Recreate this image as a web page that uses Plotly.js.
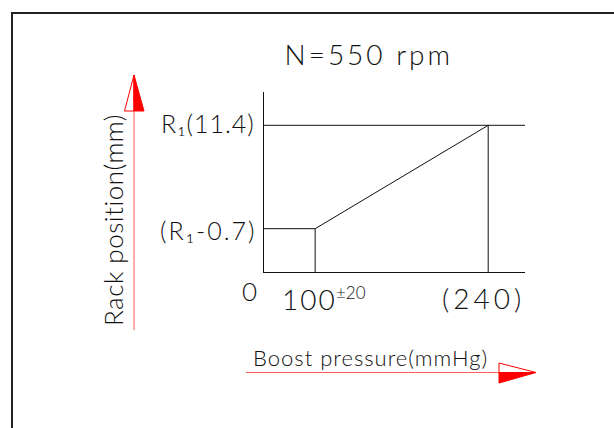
<!DOCTYPE html>
<html>
<head>
<meta charset="utf-8">
<script src="https://cdn.plot.ly/plotly-3.0.1.min.js"></script>
<style>
html,body{margin:0;padding:0;background:#fff;}
#chart{width:614px;height:428px;}
.annotation[data-index="0"] text{letter-spacing:3px;}
.annotation[data-index="1"] text, .annotation[data-index="2"] text{letter-spacing:2px;}
.annotation[data-index="3"] text{letter-spacing:4px;}
.annotation[data-index="4"] text{letter-spacing:1px;}
.annotation[data-index="5"] text{letter-spacing:2px;}
.annotation[data-index="6"] text{letter-spacing:0.5px;}
.annotation[data-index="7"] text{letter-spacing:1px;}
</style>
</head>
<body>
<div id="chart"></div>
<script>
// ---- data (schematic governor diagram, N = 550 rpm) ----
const speedTitle = "N=550 rpm";
const pressureKnots = [0, 100, 240];                 // boost pressure, mmHg
const pressureLabels = ["0", "100", "(240)"];
const pressureTolerance = "±20";                     // tolerance on the 100 mmHg break point
const R1 = 11.4;                                      // rack position, mm
const rackLow = R1 - 0.7;
const rackKnots = [0, rackLow, R1];
const rackLabels = ["", "(R₁-0.7)", "R₁(11.4)"];
const curvePressure = [0, 100, 240, 240];
const curveRack = [rackLow, rackLow, R1, 0];
const dropPressure = [100, 100];
const dropRack = [rackLow, 0];
const xTitle = "Boost pressure(mmHg)";
const yTitle = "Rack position(mm)";

// The drawing is not to scale: each knot sits at a fixed station of its axis (fraction of axis length).
const xStations = [0, 0.196, 0.859];
const yStations = [0, 0.2406, 0.815];
function interp(v, knots, st) {
  for (let i = 0; i < knots.length - 1; i++) {
    if (v <= knots[i + 1]) {
      return st[i] + (v - knots[i]) / (knots[i + 1] - knots[i]) * (st[i + 1] - st[i]);
    }
  }
  return st[st.length - 1];
}
const sx = v => interp(v, pressureKnots, xStations);
const sy = v => interp(v, rackKnots, yStations);

const W = 614, H = 428;
const px = x => x / W, py = y => 1 - y / H;

const ink = "#111";
const cadFont = size => ({family: "Lato", size: size, color: ink, weight: 300});

const traces = [
  {x: curvePressure.map(sx), y: curveRack.map(sy), mode: "lines", line: {color: ink, width: 1}, hoverinfo: "skip"},
  {x: dropPressure.map(sx), y: dropRack.map(sy), mode: "lines", line: {color: ink, width: 1}, hoverinfo: "skip"},
  {x: [0, 1], y: [sy(R1), sy(R1)], mode: "lines", line: {color: ink, width: 1}, hoverinfo: "skip"}
];

const annotations = [
  {xref: "paper", yref: "paper", x: px(369), y: py(54), text: speedTitle, showarrow: false,
   font: cadFont(28), xanchor: "center", yanchor: "middle"},
  {xref: "x", yref: "y", x: sx(pressureKnots[0]), y: 0, text: pressureLabels[0], showarrow: false,
   font: cadFont(26), xanchor: "right", yanchor: "middle", xshift: -4, yshift: -19},
  {xref: "x", yref: "y", x: sx(pressureKnots[1]), y: 0, text: pressureLabels[1], showarrow: false,
   font: cadFont(28), xanchor: "left", yanchor: "middle", xshift: -32, yshift: -27},
  {xref: "x", yref: "y", x: sx(pressureKnots[2]), y: 0, text: pressureLabels[2], showarrow: false,
   font: cadFont(28), xanchor: "center", yanchor: "middle", xshift: -5, yshift: -26},
  {xref: "x", yref: "y", x: 0, y: sy(rackKnots[2]), text: rackLabels[2], showarrow: false,
   font: cadFont(25), xanchor: "right", yanchor: "middle", xshift: -11, yshift: 2},
  {xref: "x", yref: "y", x: 0, y: sy(rackKnots[1]), text: rackLabels[1], showarrow: false,
   font: cadFont(25), xanchor: "right", yanchor: "middle", xshift: -13, yshift: -1},
  {xref: "paper", yref: "paper", x: px(113), y: py(220), text: yTitle, textangle: -90, showarrow: false,
   font: cadFont(26), xanchor: "center", yanchor: "middle"},
  {xref: "paper", yref: "paper", x: px(370), y: py(357), text: xTitle, showarrow: false,
   font: cadFont(22), xanchor: "center", yanchor: "middle"},
  {xref: "x", yref: "y", x: sx(pressureKnots[1]), y: 0, text: pressureTolerance, showarrow: false,
   font: cadFont(17), xanchor: "left", yanchor: "middle", xshift: 19, yshift: -20}
];

const red = "#ff0000", pink = "#ff5a5a";
function path(pts, close) {
  return pts.map((p, i) => (i ? "L" : "M") + px(p[0]) + "," + py(p[1])).join(" ") + (close ? " Z" : "");
}
const shapes = [
  {type: "rect", xref: "paper", yref: "paper", x0: px(12), x1: px(640), y0: py(13), y1: py(460),
   line: {color: "#222", width: 2}},
  // vertical arrow
  {type: "path", xref: "paper", yref: "paper", path: path([[134, 330], [134, 75]]), line: {color: pink, width: 1}},
  {type: "path", xref: "paper", yref: "paper", path: path([[134, 75], [144, 111], [134, 111]], true),
   fillcolor: red, line: {color: red, width: 1}},
  {type: "path", xref: "paper", yref: "paper", path: path([[134, 75], [124.5, 111], [134, 111]], true),
   fillcolor: "rgba(0,0,0,0)", line: {color: red, width: 1}},
  // horizontal arrow
  {type: "path", xref: "paper", yref: "paper", path: path([[246, 372.5], [536, 372.5]]), line: {color: pink, width: 1}},
  {type: "path", xref: "paper", yref: "paper", path: path([[536, 372.5], [499, 383], [499, 372.5]], true),
   fillcolor: red, line: {color: red, width: 1}},
  {type: "path", xref: "paper", yref: "paper", path: path([[536, 372.5], [499, 363], [499, 372.5]], true),
   fillcolor: "rgba(0,0,0,0)", line: {color: red, width: 1}}
];

const layout = {
  width: W, height: H,
  margin: {l: 0, r: 0, t: 0, b: 0},
  paper_bgcolor: "#fff", plot_bgcolor: "#fff",
  showlegend: false,
  xaxis: {domain: [264 / W, 525 / W], range: [0, 1], showline: true, linecolor: ink, linewidth: 1,
          showgrid: false, zeroline: false, showticklabels: false, ticks: "", fixedrange: true},
  yaxis: {domain: [1 - 272 / H, 1 - 92 / H], range: [0, 1], showline: true, linecolor: ink, linewidth: 1,
          showgrid: false, zeroline: false, showticklabels: false, ticks: "", fixedrange: true},
  annotations: annotations,
  shapes: shapes
};

Plotly.newPlot("chart", traces, layout, {staticPlot: true, displayModeBar: false});
</script>
</body>
</html>
